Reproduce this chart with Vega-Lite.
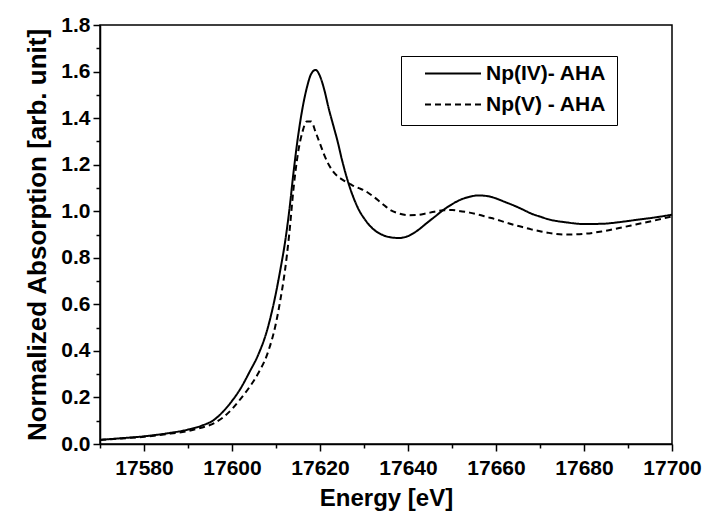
{
  "$schema": "https://vega.github.io/schema/vega-lite/v6.json",
  "width": 572,
  "height": 419,
  "autosize": {"type": "none"},
  "padding": {"left": 100, "top": 25, "right": 34, "bottom": 73},
  "background": "white",
  "config": {
    "font": "Liberation Sans",
    "view": {"stroke": "black", "strokeWidth": 1.5},
    "axis": {
      "grid": false,
      "domainColor": "black",
      "domainWidth": 1.5,
      "tickColor": "black",
      "tickWidth": 1.5,
      "tickSize": 7,
      "labelColor": "black",
      "labelFont": "Liberation Sans",
      "labelFontWeight": "bold",
      "titleFont": "Liberation Sans",
      "titleFontWeight": "bold",
      "titleColor": "black"
    },
    "legend": {
      "labelFont": "Liberation Sans",
      "labelFontWeight": "bold"
    }
  },
  "data": {
    "values": [
      {"E": 17570, "iv": 0.018, "v": 0.017},
      {"E": 17575, "iv": 0.025, "v": 0.024},
      {"E": 17580, "iv": 0.033, "v": 0.031},
      {"E": 17585, "iv": 0.045, "v": 0.042},
      {"E": 17590, "iv": 0.062, "v": 0.056},
      {"E": 17593, "iv": 0.078, "v": 0.07},
      {"E": 17596, "iv": 0.105, "v": 0.09},
      {"E": 17598, "iv": 0.14, "v": 0.115},
      {"E": 17600, "iv": 0.185, "v": 0.15},
      {"E": 17602, "iv": 0.24, "v": 0.195},
      {"E": 17604, "iv": 0.31, "v": 0.245},
      {"E": 17606, "iv": 0.385, "v": 0.305},
      {"E": 17608, "iv": 0.49, "v": 0.385},
      {"E": 17610, "iv": 0.65, "v": 0.52},
      {"E": 17611, "iv": 0.75, "v": 0.62},
      {"E": 17612, "iv": 0.86, "v": 0.74},
      {"E": 17613, "iv": 1.0, "v": 0.9},
      {"E": 17614, "iv": 1.17, "v": 1.1},
      {"E": 17615, "iv": 1.32, "v": 1.25},
      {"E": 17616, "iv": 1.44, "v": 1.34},
      {"E": 17617, "iv": 1.53, "v": 1.385},
      {"E": 17618, "iv": 1.59, "v": 1.385},
      {"E": 17619, "iv": 1.607, "v": 1.34},
      {"E": 17620, "iv": 1.58, "v": 1.29},
      {"E": 17621, "iv": 1.52, "v": 1.24},
      {"E": 17622, "iv": 1.44, "v": 1.2},
      {"E": 17623, "iv": 1.37, "v": 1.17},
      {"E": 17624, "iv": 1.3, "v": 1.15},
      {"E": 17625, "iv": 1.22, "v": 1.137},
      {"E": 17626, "iv": 1.15, "v": 1.125},
      {"E": 17627, "iv": 1.09, "v": 1.115},
      {"E": 17628, "iv": 1.04, "v": 1.105},
      {"E": 17629, "iv": 1.0, "v": 1.098},
      {"E": 17630, "iv": 0.97, "v": 1.09},
      {"E": 17632, "iv": 0.925, "v": 1.065},
      {"E": 17634, "iv": 0.9, "v": 1.035},
      {"E": 17636, "iv": 0.888, "v": 1.005},
      {"E": 17638, "iv": 0.885, "v": 0.99},
      {"E": 17640, "iv": 0.893, "v": 0.983},
      {"E": 17642, "iv": 0.915, "v": 0.984},
      {"E": 17644, "iv": 0.945, "v": 0.99},
      {"E": 17646, "iv": 0.975, "v": 0.998},
      {"E": 17648, "iv": 1.005, "v": 1.004},
      {"E": 17650, "iv": 1.03, "v": 1.005},
      {"E": 17652, "iv": 1.05, "v": 1.0},
      {"E": 17654, "iv": 1.062, "v": 0.994},
      {"E": 17656, "iv": 1.068, "v": 0.985},
      {"E": 17658, "iv": 1.065, "v": 0.975},
      {"E": 17660, "iv": 1.055, "v": 0.965},
      {"E": 17662, "iv": 1.04, "v": 0.953},
      {"E": 17664, "iv": 1.025, "v": 0.942},
      {"E": 17666, "iv": 1.008, "v": 0.932},
      {"E": 17668, "iv": 0.99, "v": 0.922},
      {"E": 17670, "iv": 0.977, "v": 0.914},
      {"E": 17672, "iv": 0.965, "v": 0.907},
      {"E": 17676, "iv": 0.952, "v": 0.9},
      {"E": 17680, "iv": 0.945, "v": 0.903},
      {"E": 17684, "iv": 0.946, "v": 0.913},
      {"E": 17688, "iv": 0.953, "v": 0.928},
      {"E": 17692, "iv": 0.963, "v": 0.944},
      {"E": 17696, "iv": 0.973, "v": 0.96},
      {"E": 17700, "iv": 0.985, "v": 0.978}
    ]
  },
  "transform": [{"fold": ["iv", "v"], "as": ["s", "A"]}],
  "layer": [
    {
      "mark": {"type": "line", "color": "black", "strokeWidth": 2, "interpolate": "monotone"},
      "encoding": {
        "x": {
          "field": "E", "type": "quantitative",
          "scale": {"domain": [17570, 17700], "nice": false, "zero": false},
          "axis": {
            "values": [17580, 17600, 17620, 17640, 17660, 17680, 17700],
            "format": "d",
            "title": "Energy [eV]",
            "labelFontSize": 21,
            "labelPadding": 6,
            "labelFlush": false,
            "labelOverlap": false,
            "titleFontSize": 24,
            "titlePadding": 8
          }
        },
        "y": {
          "field": "A", "type": "quantitative",
          "scale": {"domain": [0, 1.8], "nice": false},
          "axis": {
            "values": [0, 0.2, 0.4, 0.6, 0.8, 1.0, 1.2, 1.4, 1.6, 1.8],
            "format": ".1f",
            "title": "Normalized Absorption [arb. unit]",
            "labelFontSize": 21,
            "labelPadding": 3,
            "labelFlush": false,
            "titleFontSize": 26,
            "titlePadding": 10
          }
        },
        "strokeDash": {
          "field": "s", "type": "nominal",
          "scale": {"domain": ["iv", "v"], "range": [[1, 0], [6, 4]]},
          "legend": {
            "title": null,
            "orient": "none",
            "legendX": 301,
            "legendY": 31,
            "labelExpr": "datum.label == 'iv' ? 'Np(IV)- AHA' : 'Np(V) - AHA'",
            "labelFontSize": 21,
            "labelColor": "black",
            "symbolType": "stroke",
            "symbolSize": 3136,
            "symbolStrokeWidth": 2,
            "symbolStrokeColor": "black",
            "symbolOffset": 13,
            "labelOffset": 4,
            "clipHeight": 15,
            "strokeColor": "black",
            "padding": 10,
            "rowPadding": 9
          }
        }
      }
    },
    {
      "mark": {"type": "line", "opacity": 0},
      "encoding": {
        "x": {
          "field": "E", "type": "quantitative",
          "axis": {
            "orient": "bottom",
            "values": [17570, 17590, 17610, 17630, 17650, 17670, 17690],
            "labels": false, "domain": false, "tickSize": 4, "title": null
          }
        },
        "y": {
          "field": "A", "type": "quantitative",
          "axis": {
            "orient": "left",
            "values": [0.1, 0.3, 0.5, 0.7, 0.9, 1.1, 1.3, 1.5, 1.7],
            "labels": false, "domain": false, "tickSize": 4, "title": null
          }
        },
        "detail": {"field": "s", "type": "nominal"}
      }
    }
  ],
  "resolve": {"axis": {"x": "independent", "y": "independent"}}
}
